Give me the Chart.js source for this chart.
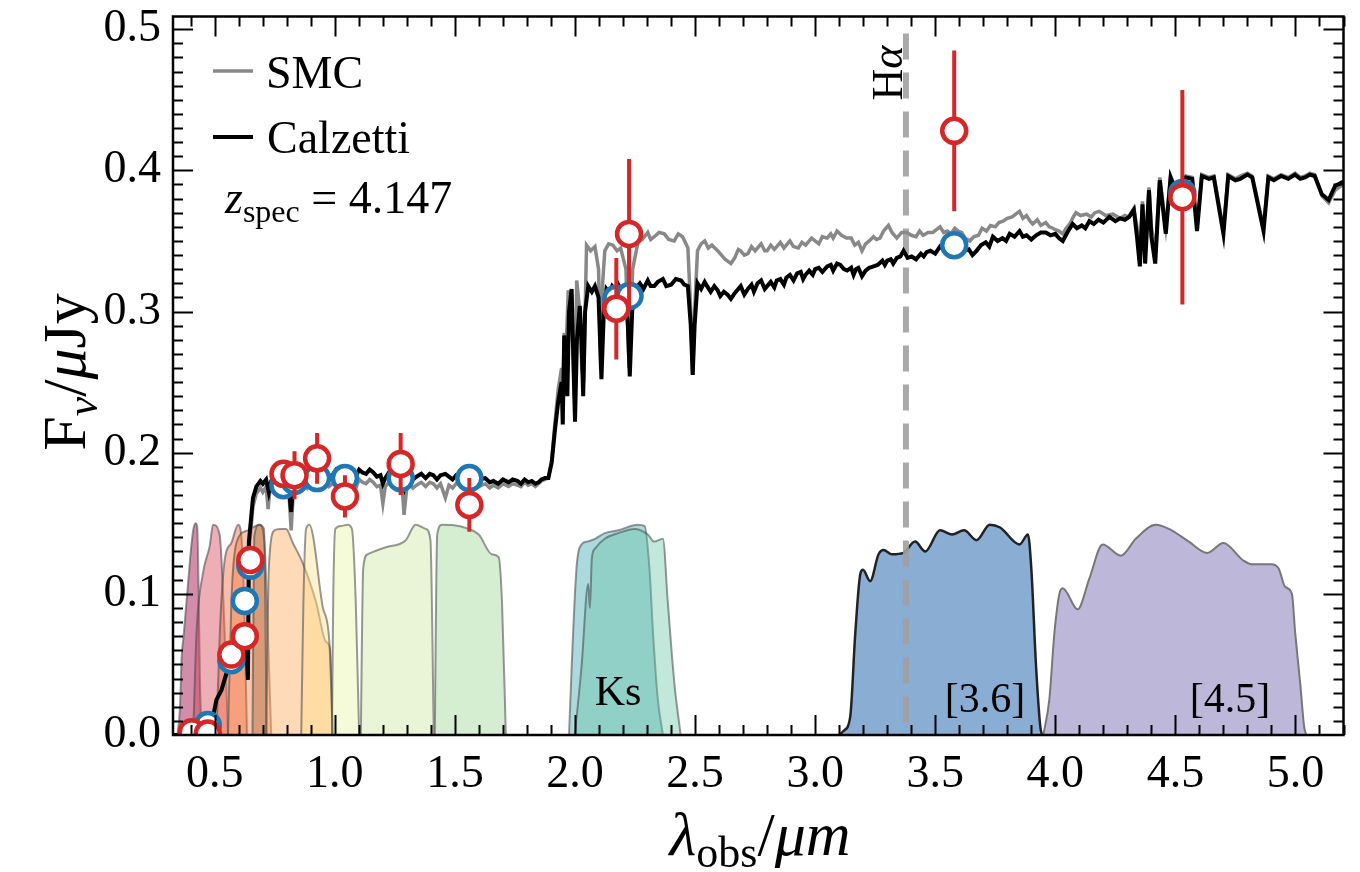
<!DOCTYPE html>
<html>
<head>
<meta charset="utf-8">
<script src="https://cdn.jsdelivr.net/npm/chart.js@4.4.1/dist/chart.umd.min.js"></script>
<style>
  html, body { margin: 0; padding: 0; background: #fff; }
  #wrap { width: 1360px; height: 872px; }
</style>
</head>
<body>
<div id="wrap"><canvas id="sedChart" width="1360" height="872"></canvas></div>
<script>
// SED of a z=4.147 galaxy: two dust-law model spectra, photometry and filter curves

const SERIF = '"Liberation Serif", "DejaVu Serif", serif';

// tick labels
const xTicks = [0.5, 1.0, 1.5, 2.0, 2.5, 3.0, 3.5, 4.0, 4.5, 5.0];
const yTicks = [0.0, 0.1, 0.2, 0.3, 0.4, 0.5];

// model spectra [wavelength um, flux uJy]
const calzettiSpec = [
  [0.326,0.000],[0.40,0.000],[0.46,0.000],[0.48,0.004],[0.495,0.015],[0.507,0.025],[0.528,0.032],
  [0.549,0.044],[0.575,0.052],[0.604,0.062],[0.624,0.072],[0.632,0.060],[0.638,0.039],[0.642,0.137],
  [0.659,0.168],[0.673,0.176],[0.69,0.180],[0.70,0.178],[0.714,0.181],[0.725,0.172],[0.735,0.180],
  [0.748,0.183],[0.761,0.186],[0.77,0.181],[0.78,0.182],[0.79,0.179],[0.797,0.178],[0.808,0.175],
  [0.818,0.158],[0.826,0.176],[0.84,0.184],[0.855,0.181],[0.87,0.185],[0.885,0.182],[0.90,0.184],
  [0.915,0.186],[0.93,0.183],[0.945,0.187],[0.96,0.186],[0.975,0.183],[0.99,0.184],[1.005,0.188],
  [1.02,0.186],[1.035,0.189],[1.05,0.184],[1.065,0.186],[1.08,0.187],[1.09,0.184],[1.101,0.188],
  [1.115,0.186],[1.13,0.185],[1.145,0.188],[1.16,0.186],[1.175,0.183],[1.19,0.184],[1.20,0.178],
  [1.21,0.182],[1.225,0.186],[1.24,0.185],[1.255,0.183],[1.27,0.187],[1.28,0.184],[1.29,0.176],
  [1.30,0.183],[1.31,0.184],[1.325,0.181],[1.34,0.183],[1.36,0.185],[1.378,0.182],[1.395,0.185],
  [1.41,0.184],[1.425,0.181],[1.44,0.184],[1.46,0.185],[1.475,0.183],[1.49,0.181],[1.505,0.184],
  [1.52,0.183],[1.535,0.186],[1.55,0.185],[1.565,0.182],[1.58,0.183],[1.60,0.181],[1.626,0.182],
  [1.645,0.179],[1.66,0.180],[1.68,0.178],[1.70,0.181],[1.723,0.179],[1.74,0.181],[1.76,0.180],
  [1.775,0.178],[1.79,0.181],[1.805,0.179],[1.82,0.180],[1.835,0.178],[1.848,0.179],[1.86,0.181],
  [1.875,0.182],[1.889,0.182],[1.903,0.193],[1.917,0.217],[1.93,0.236],[1.944,0.250],[1.949,0.220],
  [1.955,0.283],[1.962,0.270],[1.968,0.240],[1.975,0.300],[1.986,0.316],[1.994,0.260],[2.0,0.222],
  [2.008,0.280],[2.02,0.304],[2.027,0.280],[2.034,0.240],[2.042,0.300],[2.055,0.318],[2.07,0.314],
  [2.083,0.318],[2.098,0.310],[2.11,0.252],[2.12,0.300],[2.131,0.316],[2.145,0.313],[2.155,0.318],
  [2.17,0.315],[2.18,0.319],[2.195,0.314],[2.21,0.316],[2.22,0.290],[2.228,0.254],[2.238,0.300],
  [2.248,0.315],[2.26,0.318],[2.27,0.320],[2.285,0.316],[2.303,0.322],[2.315,0.318],[2.33,0.318],
  [2.345,0.321],[2.366,0.323],[2.38,0.318],[2.40,0.319],[2.42,0.323],[2.442,0.322],[2.455,0.319],
  [2.47,0.318],[2.482,0.290],[2.49,0.255],[2.498,0.290],[2.51,0.320],[2.525,0.316],[2.54,0.321],
  [2.55,0.318],[2.565,0.314],[2.58,0.318],[2.594,0.315],[2.605,0.311],[2.62,0.314],[2.635,0.312],
  [2.649,0.309],[2.665,0.313],[2.68,0.316],[2.69,0.318],[2.705,0.312],[2.72,0.316],[2.735,0.319],
  [2.745,0.314],[2.76,0.320],[2.775,0.322],[2.79,0.316],[2.80,0.318],[2.815,0.321],[2.83,0.317],
  [2.84,0.322],[2.855,0.323],[2.87,0.319],[2.88,0.324],[2.895,0.326],[2.91,0.322],[2.925,0.327],
  [2.94,0.328],[2.95,0.323],[2.96,0.326],[2.975,0.329],[2.99,0.326],[3.00,0.330],[3.015,0.331],
  [3.03,0.328],[3.05,0.332],[3.065,0.333],[3.075,0.329],[3.091,0.334],[3.105,0.333],[3.12,0.330],
  [3.133,0.329],[3.15,0.331],[3.16,0.326],[3.17,0.330],[3.18,0.331],[3.195,0.325],[3.21,0.329],
  [3.225,0.331],[3.243,0.332],[3.26,0.333],[3.28,0.336],[3.29,0.333],[3.30,0.336],[3.315,0.337],
  [3.325,0.334],[3.34,0.338],[3.355,0.339],[3.368,0.343],[3.385,0.338],[3.402,0.339],[3.42,0.337],
  [3.44,0.341],[3.452,0.339],[3.464,0.342],[3.48,0.343],[3.50,0.341],[3.52,0.346],[3.54,0.343],
  [3.56,0.345],[3.58,0.343],[3.60,0.347],[3.62,0.343],[3.64,0.344],[3.655,0.340],[3.672,0.343],
  [3.69,0.347],[3.71,0.349],[3.725,0.346],[3.74,0.353],[3.76,0.350],[3.78,0.352],[3.795,0.350],
  [3.81,0.355],[3.83,0.353],[3.851,0.357],[3.865,0.353],[3.88,0.354],[3.90,0.351],[3.92,0.354],
  [3.94,0.356],[3.96,0.356],[3.98,0.354],[4.0,0.355],[4.015,0.352],[4.031,0.350],[4.05,0.356],
  [4.072,0.362],[4.09,0.359],[4.11,0.361],[4.125,0.359],[4.142,0.364],[4.16,0.362],[4.18,0.365],
  [4.20,0.363],[4.225,0.367],[4.25,0.364],[4.27,0.366],[4.29,0.365],[4.307,0.367],[4.327,0.372],
  [4.34,0.353],[4.352,0.332],[4.363,0.376],[4.374,0.334],[4.39,0.386],[4.40,0.353],[4.416,0.334],
  [4.435,0.393],[4.46,0.355],[4.48,0.395],[4.50,0.386],[4.52,0.390],[4.543,0.395],[4.57,0.394],
  [4.59,0.357],[4.61,0.396],[4.64,0.394],[4.66,0.395],[4.70,0.355],[4.72,0.396],[4.75,0.393],
  [4.77,0.394],[4.80,0.397],[4.82,0.395],[4.867,0.357],[4.887,0.395],[4.91,0.393],[4.94,0.396],
  [4.97,0.394],[4.998,0.397],[5.02,0.394],[5.04,0.395],[5.06,0.397],[5.08,0.396],[5.11,0.383],
  [5.138,0.379],[5.165,0.389],[5.20,0.392]
];

const smcSpec = [
  [0.326,0.000],[0.40,0.000],[0.46,0.000],[0.48,0.004],[0.495,0.014],[0.507,0.024],[0.528,0.031],
  [0.549,0.042],[0.575,0.050],[0.604,0.060],[0.624,0.070],[0.632,0.058],[0.638,0.040],[0.642,0.130],
  [0.659,0.162],[0.673,0.171],[0.69,0.175],[0.70,0.172],[0.714,0.176],[0.722,0.160],[0.73,0.175],
  [0.748,0.178],[0.761,0.181],[0.77,0.175],[0.78,0.178],[0.79,0.172],[0.797,0.172],[0.81,0.168],
  [0.818,0.145],[0.826,0.170],[0.84,0.178],[0.855,0.174],[0.87,0.179],[0.885,0.175],[0.90,0.178],
  [0.915,0.180],[0.93,0.177],[0.945,0.181],[0.96,0.179],[0.975,0.176],[0.99,0.178],[1.005,0.181],
  [1.02,0.180],[1.035,0.182],[1.05,0.176],[1.065,0.179],[1.08,0.180],[1.09,0.176],[1.101,0.181],
  [1.115,0.179],[1.13,0.178],[1.145,0.181],[1.16,0.179],[1.175,0.176],[1.19,0.177],[1.20,0.164],
  [1.21,0.176],[1.225,0.179],[1.24,0.178],[1.255,0.176],[1.27,0.180],[1.28,0.176],[1.288,0.156],
  [1.30,0.176],[1.31,0.178],[1.325,0.175],[1.34,0.177],[1.36,0.179],[1.378,0.176],[1.395,0.179],
  [1.41,0.178],[1.425,0.175],[1.44,0.178],[1.46,0.168],[1.475,0.177],[1.49,0.175],[1.505,0.178],
  [1.52,0.178],[1.535,0.180],[1.55,0.180],[1.565,0.177],[1.58,0.178],[1.60,0.176],[1.626,0.178],
  [1.645,0.175],[1.66,0.177],[1.68,0.175],[1.70,0.178],[1.723,0.176],[1.74,0.178],[1.76,0.177],
  [1.775,0.176],[1.79,0.179],[1.805,0.177],[1.82,0.178],[1.835,0.176],[1.848,0.178],[1.86,0.180],
  [1.875,0.181],[1.889,0.182],[1.903,0.195],[1.917,0.222],[1.93,0.245],[1.944,0.260],[1.949,0.235],
  [1.955,0.285],[1.962,0.270],[1.972,0.315],[1.985,0.300],[1.994,0.260],[2.0,0.230],[2.007,0.322],
  [2.02,0.300],[2.028,0.260],[2.036,0.250],[2.048,0.347],[2.065,0.343],[2.083,0.346],[2.098,0.330],
  [2.107,0.259],[2.115,0.320],[2.124,0.343],[2.14,0.348],[2.158,0.347],[2.175,0.343],[2.19,0.345],
  [2.212,0.330],[2.225,0.260],[2.24,0.330],[2.262,0.349],[2.28,0.351],[2.303,0.356],[2.315,0.351],
  [2.33,0.353],[2.35,0.356],[2.372,0.355],[2.39,0.351],[2.413,0.350],[2.43,0.355],[2.448,0.353],
  [2.47,0.345],[2.482,0.300],[2.49,0.255],[2.498,0.300],[2.51,0.343],[2.525,0.348],[2.54,0.350],
  [2.555,0.345],[2.57,0.347],[2.594,0.343],[2.61,0.340],[2.625,0.337],[2.649,0.334],[2.665,0.338],
  [2.68,0.344],[2.69,0.343],[2.705,0.340],[2.72,0.341],[2.735,0.346],[2.75,0.343],[2.76,0.345],
  [2.775,0.348],[2.79,0.343],[2.80,0.343],[2.815,0.347],[2.83,0.344],[2.84,0.346],[2.855,0.349],
  [2.87,0.345],[2.88,0.347],[2.895,0.350],[2.91,0.346],[2.93,0.345],[2.945,0.349],[2.96,0.347],
  [2.97,0.349],[2.985,0.352],[3.00,0.350],[3.015,0.348],[3.03,0.353],[3.05,0.352],[3.065,0.355],
  [3.075,0.352],[3.091,0.357],[3.11,0.354],[3.13,0.352],[3.15,0.352],[3.165,0.347],[3.18,0.349],
  [3.195,0.343],[3.21,0.348],[3.225,0.350],[3.243,0.353],[3.255,0.351],[3.27,0.352],[3.285,0.357],
  [3.305,0.361],[3.32,0.356],[3.34,0.352],[3.36,0.356],[3.382,0.356],[3.40,0.354],[3.42,0.353],
  [3.435,0.357],[3.45,0.354],[3.47,0.356],[3.49,0.356],[3.505,0.358],[3.52,0.360],[3.535,0.356],
  [3.55,0.357],[3.565,0.355],[3.582,0.359],[3.595,0.357],[3.61,0.356],[3.625,0.352],[3.644,0.350],
  [3.66,0.353],[3.68,0.354],[3.695,0.359],[3.713,0.357],[3.73,0.361],[3.75,0.360],[3.765,0.363],
  [3.782,0.364],[3.80,0.366],[3.82,0.367],[3.835,0.369],[3.851,0.371],[3.865,0.366],[3.88,0.368],
  [3.895,0.364],[3.906,0.362],[3.925,0.365],[3.94,0.361],[3.96,0.363],[3.975,0.360],[3.99,0.359],
  [4.0,0.358],[4.015,0.357],[4.031,0.355],[4.045,0.359],[4.06,0.362],[4.075,0.367],[4.086,0.370],
  [4.105,0.368],[4.13,0.369],[4.15,0.367],[4.165,0.370],[4.183,0.371],[4.21,0.368],[4.24,0.369],
  [4.27,0.366],[4.29,0.368],[4.307,0.367],[4.327,0.373],[4.34,0.360],[4.352,0.338],[4.363,0.378],
  [4.374,0.340],[4.39,0.388],[4.40,0.360],[4.416,0.340],[4.435,0.395],[4.46,0.360],[4.48,0.396],
  [4.50,0.388],[4.52,0.392],[4.543,0.396],[4.57,0.395],[4.59,0.360],[4.61,0.397],[4.64,0.395],
  [4.66,0.396],[4.70,0.358],[4.72,0.397],[4.75,0.394],[4.77,0.396],[4.80,0.398],[4.82,0.396],
  [4.867,0.360],[4.887,0.396],[4.91,0.394],[4.94,0.397],[4.97,0.395],[4.998,0.398],[5.02,0.395],
  [5.04,0.396],[5.06,0.398],[5.08,0.397],[5.11,0.382],[5.138,0.377],[5.165,0.386],[5.20,0.390]
];

// observed photometry
const obsWave = [0.404, 0.471, 0.569, 0.625, 0.648, 0.786, 0.832, 0.926, 1.042, 1.274, 1.560, 2.172, 2.225, 3.579, 4.529];
const obsFlux = [0.002, 0.001, 0.057, 0.070, 0.124, 0.185, 0.184, 0.196, 0.169, 0.192, 0.163, 0.302, 0.355, 0.428, 0.381];
const obsErr  = [0.002, 0.002, 0.004, 0.010, 0.005, 0.008, 0.017, 0.018, 0.015, 0.022, 0.019, 0.036, 0.053, 0.057, 0.076];

// model photometry
const modelWave = [0.404, 0.471, 0.569, 0.625, 0.648, 0.786, 0.832, 0.926, 1.042, 1.274, 1.560, 2.172, 2.227, 3.579, 4.529];
const modelFlux = [0.000, 0.007, 0.053, 0.095, 0.120, 0.177, 0.180, 0.182, 0.182, 0.182, 0.182, 0.309, 0.311, 0.347, 0.384];

// H-alpha at z_spec, drawn from the top down
const haWave = 3.378;
const haSpan = [0.497, 0.0];

// filter curves, scaled to the plot
const filtU = [[0.345,0],[0.355,0.02],[0.362,0.055],[0.37,0.07],[0.38,0.09],[0.39,0.11],[0.40,0.13],[0.41,0.145],[0.42,0.15],[0.427,0.147],[0.432,0.11],[0.438,0.04],[0.445,0]];
const filtB = [[0.41,0],[0.424,0.073],[0.451,0.115],[0.479,0.134],[0.493,0.149],[0.52,0.142],[0.541,0.073],[0.555,0]];
const filtV = [[0.507,0],[0.521,0.073],[0.542,0.125],[0.569,0.136],[0.597,0.149],[0.615,0.13],[0.625,0.073],[0.634,0]];
const filtR = [[0.555,0],[0.569,0.094],[0.59,0.136],[0.638,0.145],[0.687,0.149],[0.707,0.136],[0.721,0.073],[0.735,0]];
const filtNB = [[0.657,0],[0.664,0.14],[0.685,0.149],[0.705,0.146],[0.716,0]];
const filtI = [[0.714,0],[0.725,0.118],[0.749,0.145],[0.77,0.146],[0.797,0.146],[0.825,0.136],[0.866,0.122],[0.922,0.094],[0.963,0.066],[0.98,0.061],[0.991,0]];
const filtZ = [[0.86,0],[0.869,0.094],[0.88,0.146],[0.894,0.149],[0.908,0.142],[0.949,0.091],[0.977,0.066],[0.991,0]];
const filtY = [[0.988,0],[0.993,0.094],[1.002,0.146],[1.025,0.148],[1.053,0.149],[1.071,0.146],[1.087,0.094],[1.101,0]];
const filtJ = [[1.108,0],[1.118,0.118],[1.136,0.128],[1.212,0.133],[1.295,0.138],[1.336,0.149],[1.378,0.146],[1.398,0.138],[1.412,0]];
const filtH = [[1.416,0],[1.426,0.142],[1.447,0.149],[1.516,0.148],[1.599,0.142],[1.654,0.128],[1.682,0.126],[1.696,0.094],[1.712,0]];
const filtKs1 = [[1.975,0],[1.986,0.048],[2.006,0.118],[2.027,0.135],[2.05,0.137],[2.083,0.139],[2.124,0.143],[2.18,0.145],[2.262,0.149],[2.29,0.148],[2.31,0.118],[2.325,0.072],[2.345,0.025],[2.366,0]];
const filtKs2 = [[1.999,0],[2.027,0.048],[2.055,0.107],[2.062,0.09],[2.07,0.125],[2.083,0.132],[2.124,0.139],[2.18,0.143],[2.248,0.146],[2.303,0.142],[2.33,0.137],[2.366,0.139],[2.386,0.095],[2.414,0.036],[2.44,0]];
const filtCh1 = [[3.10,0],[3.119,0.003],[3.146,0.013],[3.167,0.072],[3.188,0.114],[3.199,0.117],[3.229,0.109],[3.264,0.128],[3.285,0.131],[3.32,0.128],[3.368,0.129],[3.416,0.137],[3.458,0.130],[3.52,0.145],[3.57,0.142],[3.62,0.145],[3.672,0.138],[3.727,0.149],[3.77,0.147],[3.851,0.135],[3.886,0.142],[3.90,0.118],[3.92,0.048],[3.94,0.003],[3.95,0]];
const filtCh2 = [[3.95,0],[3.975,0.025],[3.996,0.072],[4.017,0.10],[4.031,0.104],[4.093,0.089],[4.142,0.111],[4.197,0.135],[4.273,0.127],[4.335,0.139],[4.418,0.149],[4.473,0.146],[4.556,0.137],[4.632,0.129],[4.70,0.136],[4.78,0.124],[4.818,0.121],[4.90,0.121],[4.93,0.118],[4.957,0.105],[4.985,0.10],[4.999,0.072],[5.02,0.036],[5.036,0.006],[5.045,0]];

const filterCurves = [filtU, filtB, filtV, filtR, filtNB, filtI, filtZ, filtY, filtJ, filtH, filtKs1, filtKs2, filtCh1, filtCh2];
const filterFills = [
  'rgba(158,1,66,0.45)', 'rgba(213,62,79,0.42)', 'rgba(244,109,67,0.45)', 'rgba(244,120,60,0.42)',
  'rgba(160,90,40,0.40)', 'rgba(253,174,97,0.45)', 'rgba(254,224,139,0.45)', 'rgba(230,245,152,0.38)',
  'rgba(200,230,152,0.40)', 'rgba(171,221,164,0.50)', 'rgba(90,180,190,0.50)', 'rgba(102,194,165,0.40)',
  'rgba(50,110,180,0.57)', 'rgba(94,79,162,0.41)'
];
const filterEdges = [
  'rgba(70,70,70,0.55)', 'rgba(70,70,70,0.55)', 'rgba(70,70,70,0.55)', 'rgba(70,70,70,0.55)',
  'rgba(70,70,70,0.55)', 'rgba(70,70,70,0.55)', 'rgba(70,70,70,0.55)', 'rgba(70,70,70,0.55)',
  'rgba(70,70,70,0.55)', 'rgba(70,70,70,0.55)', 'rgba(70,70,70,0.55)', 'rgba(70,70,70,0.55)',
  '#222222', '#777777'
];

function toXY(pairs) {
  return pairs.map(p => ({ x: p[0], y: p[1] }));
}

/**
 * Draw a run of text pieces, each with its own font and vertical shift
 */
function drawRich(ctx, parts, x, y, align) {
  let width = 0;
  parts.forEach(p => { ctx.font = p[1]; width += ctx.measureText(p[0]).width; });
  let cx = align === 'center' ? x - width / 2 : x;
  parts.forEach(p => {
    ctx.font = p[1];
    ctx.fillText(p[0], cx, y + (p[2] || 0));
    cx += ctx.measureText(p[0]).width;
  });
}

const decorPlugin = {
  id: 'decor',
  afterDraw(chart) {
    const ctx = chart.ctx;
    const xs = chart.scales.x;
    const ys = chart.scales.y;
    const a = chart.chartArea;
    ctx.save();

    // inward ticks on all four sides
    ctx.strokeStyle = '#000';
    ctx.lineWidth = 2;
    ctx.beginPath();
    for (let i = 4; i <= 52; i++) {
      const px = Math.round(xs.getPixelForValue(i / 10)) + 0.5;
      const len = i % 5 === 0 ? 20 : 10;
      ctx.moveTo(px, a.bottom); ctx.lineTo(px, a.bottom - len);
      ctx.moveTo(px, a.top); ctx.lineTo(px, a.top + len);
    }
    for (let i = 1; i <= 50; i++) {
      const py = Math.round(ys.getPixelForValue(i / 100)) + 0.5;
      const len = i % 10 === 0 ? 20 : 10;
      ctx.moveTo(a.left, py); ctx.lineTo(a.left + len, py);
      ctx.moveTo(a.right, py); ctx.lineTo(a.right - len, py);
    }
    ctx.stroke();

    // frame
    ctx.lineWidth = 2.5;
    ctx.strokeRect(a.left, a.top, a.right - a.left, a.bottom - a.top);

    ctx.fillStyle = '#000';
    ctx.textBaseline = 'alphabetic';

    // legend
    ctx.lineWidth = 3.5;
    ctx.strokeStyle = '#888888';
    ctx.beginPath(); ctx.moveTo(213, 71); ctx.lineTo(253, 71); ctx.stroke();
    ctx.lineWidth = 4;
    ctx.strokeStyle = '#000';
    ctx.beginPath(); ctx.moveTo(213, 137); ctx.lineTo(253, 137); ctx.stroke();
    drawRich(ctx, [['SMC', '46px ' + SERIF]], 266, 88, 'left');
    drawRich(ctx, [['Calzetti', '46px ' + SERIF]], 267, 153, 'left');
    drawRich(ctx, [['z', 'italic 46px ' + SERIF], ['spec', '32px ' + SERIF, 9], [' = 4.147', '46px ' + SERIF]], 225, 213, 'left');

    // filter names
    drawRich(ctx, [['Ks', '42px ' + SERIF]], 618, 705, 'center');
    drawRich(ctx, [['[3.6]', '42px ' + SERIF]], 985, 712, 'center');
    drawRich(ctx, [['[4.5]', '42px ' + SERIF]], 1230, 712, 'center');

    // H-alpha label
    ctx.save();
    ctx.translate(902, 73);
    ctx.rotate(-Math.PI / 2);
    drawRich(ctx, [['H', '44px ' + SERIF], ['\u03b1', 'italic 44px ' + SERIF]], 0, 0, 'center');
    ctx.restore();

    // axis titles
    drawRich(ctx, [['\u03bb', 'italic 62px ' + SERIF], ['obs', '44px ' + SERIF, 12], ['/', '62px ' + SERIF], ['\u03bcm', 'italic 62px ' + SERIF]], 760, 855, 'center');
    ctx.save();
    ctx.translate(85, 372);
    ctx.rotate(-Math.PI / 2);
    drawRich(ctx, [['F', '62px ' + SERIF], ['\u03bd', 'italic 44px ' + SERIF, 12], ['/', '62px ' + SERIF], ['\u03bc', 'italic 62px ' + SERIF], ['Jy', '62px ' + SERIF]], 0, 0, 'center');
    ctx.restore();

    ctx.restore();
  }
};

// datasets: low "order" is drawn on top
const datasets = [];
filterCurves.forEach((curve, i) => {
  datasets.push({
    data: toXY(curve),
    borderColor: filterEdges[i],
    backgroundColor: filterFills[i],
    borderWidth: i === 12 ? 2.5 : 2,
    fill: 'origin',
    pointRadius: 0,
    cubicInterpolationMode: 'monotone',
    order: 40 - i
  });
});
datasets.push({
  data: haSpan.map(v => ({ x: haWave, y: v })),
  borderColor: 'rgba(160,160,160,0.9)',
  borderWidth: 6,
  borderDash: [26, 13],
  pointRadius: 0,
  fill: false,
  order: 8
});
datasets.push({
  data: toXY(smcSpec),
  borderColor: '#888888',
  borderWidth: 3.5,
  pointRadius: 0,
  fill: false,
  tension: 0,
  order: 6
});
datasets.push({
  data: toXY(calzettiSpec),
  borderColor: '#000000',
  borderWidth: 4,
  pointRadius: 0,
  fill: false,
  tension: 0,
  order: 5
});
datasets.push({
  data: modelWave.map((w, i) => ({ x: w, y: modelFlux[i] })),
  showLine: false,
  pointRadius: 12,
  pointBorderWidth: 4.5,
  pointBackgroundColor: '#ffffff',
  pointBorderColor: '#1f77b4',
  clip: 0,
  order: 3
});
datasets.push({
  data: obsWave.flatMap((w, i) => [
    { x: w, y: obsFlux[i] - obsErr[i] },
    { x: w, y: obsFlux[i] + obsErr[i] },
    { x: w, y: null }
  ]),
  borderColor: '#d62728',
  borderWidth: 4,
  pointRadius: 0,
  fill: false,
  spanGaps: false,
  order: 2
});
datasets.push({
  data: obsWave.map((w, i) => ({ x: w, y: obsFlux[i] })),
  showLine: false,
  pointRadius: 12,
  pointBorderWidth: 4.5,
  pointBackgroundColor: '#ffffff',
  pointBorderColor: '#d62728',
  clip: 0,
  order: 1
});

const tickFont = { family: SERIF, size: 46 };

new Chart(document.getElementById('sedChart').getContext('2d'), {
  type: 'line',
  data: { datasets: datasets },
  options: {
    responsive: false,
    animation: false,
    layout: { padding: { top: 11, right: 12, left: 0, bottom: 0 } },
    plugins: { legend: { display: false }, tooltip: { enabled: false } },
    scales: {
      x: {
        type: 'linear',
        min: 0.326,
        max: 5.2,
        grid: { display: false, drawTicks: false },
        border: { display: false },
        ticks: {
          stepSize: 0.5,
          includeBounds: false,
          autoSkip: false,
          maxRotation: 0,
          padding: 12,
          color: '#000',
          font: tickFont,
          callback: v => xTicks.includes(Math.round(v * 10) / 10) ? v.toFixed(1) : ''
        },
        afterFit(s) { s.height = 137; s.paddingLeft = 0; s.paddingRight = 0; }
      },
      y: {
        type: 'linear',
        min: 0,
        max: 0.509,
        grid: { display: false, drawTicks: false },
        border: { display: false },
        ticks: {
          stepSize: 0.1,
          includeBounds: false,
          padding: 12,
          color: '#000',
          font: tickFont,
          callback: v => yTicks.includes(Math.round(v * 10) / 10) ? v.toFixed(1) : ''
        },
        afterFit(s) { s.width = 173; s.paddingTop = 0; s.paddingBottom = 0; }
      }
    }
  },
  plugins: [decorPlugin]
});
</script>
</body>
</html>
